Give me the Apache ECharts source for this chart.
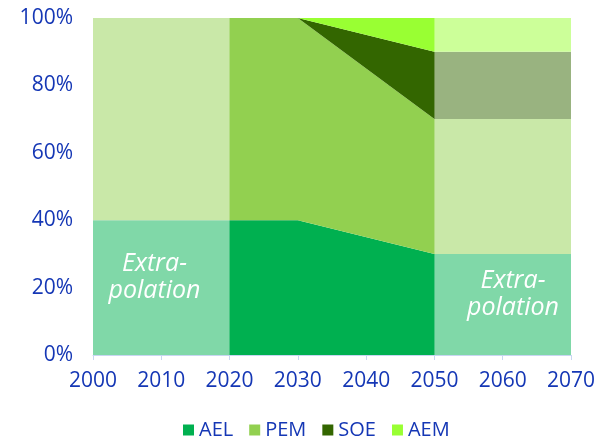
<!DOCTYPE html>
<html><head><meta charset="utf-8">
<script src="https://cdn.jsdelivr.net/npm/echarts@6/dist/echarts.min.js"></script>
<style>html,body{margin:0;padding:0;background:#fff}#c{width:600px;height:437px}#e{position:absolute;top:0;left:0;color:red;font-size:12px}</style>
</head><body><div id="c"></div><div id="e"></div>
<script>
window.onerror = function(m){ document.getElementById('e').textContent += m + ' | '; };
var years = [2000, 2020, 2030, 2050, 2070];
var ael = [40, 40, 40, 30, 30];
var pem = [60, 60, 60, 40, 40];
var soe = [0, 0, 0, 20, 20];
var aem = [0, 0, 0, 10, 10];
var seriesNames = ['AEL', 'PEM', 'SOE', 'AEM'];
var colors = ['#00b050', '#92d050', '#336600', '#99ff33'];
var extrapolationRanges = [[2000, 2020], [2050, 2070]];
var labelText = 'Extra-\npolation';
var labelPos = [[2009, 23], [2061.5, 18]];

var blue = '#1537b5';
var font = 'Open Sans';
// value first, year second: so the stack is applied to the value dimension
function pairs(v){ return years.map(function(y,i){ return [v[i], y]; }); }
var vals = [ael, pem, soe, aem];
var series = seriesNames.map(function(n, i){
  return {
    name: n, type: 'line', stack: 'total', data: pairs(vals[i]),
    encode: {x: 1, y: 0},
    symbol: 'none', lineStyle: {width: 0}, areaStyle: {color: colors[i], opacity: 1},
    itemStyle: {color: colors[i]}, z: 2
  };
});
var last = series[series.length - 1];
last.markArea = {
  silent: true, z: 10,
  itemStyle: {color: 'rgba(255,255,255,0.5)'},
  data: extrapolationRanges.map(function(r){ return [{xAxis: r[0], yAxis: 0}, {xAxis: r[1], yAxis: 100}]; })
};
last.markPoint = {
  silent: true, z: 11, symbol: 'circle', symbolSize: 0,
  label: {show: true, position: 'inside', formatter: labelText, color: '#fff', fontStyle: 'italic', fontSize: 25, fontFamily: font, lineHeight: 27, align: 'center'},
  data: labelPos.map(function(p){ return {coord: p}; })
};
try {
var chart = echarts.init(document.getElementById('c'));
chart.setOption({
  animation: false,
  color: colors,
  grid: {left: 93, right: 29, top: 18, bottom: 82},
  legend: {
    data: seriesNames, top: 415, left: 178, icon: 'rect', itemWidth: 11, itemHeight: 11, itemGap: 16,
    textStyle: {color: blue, fontSize: 20, fontFamily: font}
  },
  xAxis: {
    type: 'value', min: 2000, max: 2070, interval: 10,
    axisLine: {show: true, lineStyle: {color: '#c8d6f2'}},
    axisTick: {show: true, length: 5, lineStyle: {color: '#c8d6f2'}},
    splitLine: {show: false},
    axisLabel: {color: blue, fontSize: 21, fontFamily: font, margin: 16, formatter: function(v){ return String(v); }}
  },
  yAxis: {
    type: 'value', min: 0, max: 100, interval: 20,
    axisLine: {show: false}, axisTick: {show: false},
    splitLine: {show: true, lineStyle: {color: '#c8d6f2'}},
    axisLabel: {color: blue, fontSize: 21, fontFamily: font, margin: 20, formatter: '{value}%'}
  },
  series: series
});
} catch(err) { document.getElementById('e').textContent += err.message; }
</script></body></html>
